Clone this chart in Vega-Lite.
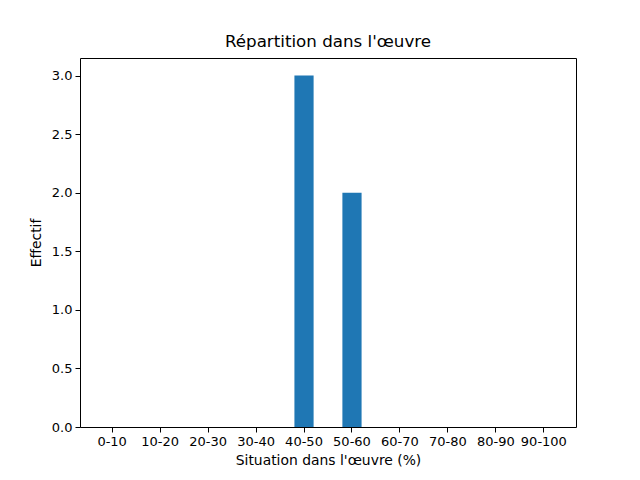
{
  "$schema": "https://vega.github.io/schema/vega-lite/v6.json",
  "width": 496,
  "height": 369,
  "autosize": {"type": "none"},
  "padding": {"left": 80, "top": 58, "right": 64, "bottom": 53},
  "background": "white",
  "title": {"text": "Répartition dans l'œuvre", "font": "DejaVu Sans", "fontSize": 16.7, "fontWeight": "normal", "color": "black", "offset": 7},
  "config": {
    "view": {"stroke": "black", "strokeWidth": 1},
    "axis": {
      "labelFont": "DejaVu Sans", "labelFontSize": 13, "labelColor": "black",
      "titleFont": "DejaVu Sans", "titleFontSize": 13.9, "titleFontWeight": "normal", "titleColor": "black",
      "tickColor": "black", "tickSize": 5, "tickWidth": 1, "domain": false, "grid": false, "labelPadding": 3
    }
  },
  "data": {"values": [
    {"tranche": "0-10", "effectif": 0},
    {"tranche": "10-20", "effectif": 0},
    {"tranche": "20-30", "effectif": 0},
    {"tranche": "30-40", "effectif": 0},
    {"tranche": "40-50", "effectif": 3},
    {"tranche": "50-60", "effectif": 2},
    {"tranche": "60-70", "effectif": 0},
    {"tranche": "70-80", "effectif": 0},
    {"tranche": "80-90", "effectif": 0},
    {"tranche": "90-100", "effectif": 0}
  ]},
  "mark": {"type": "bar", "color": "#1f77b4"},
  "encoding": {
    "x": {"field": "tranche", "type": "nominal", "sort": null,
      "scale": {"paddingInner": 0.6, "paddingOuter": 0.47},
      "axis": {"title": "Situation dans l'œuvre (%)", "labelAngle": 0, "titlePadding": 5}},
    "y": {"field": "effectif", "type": "quantitative",
      "scale": {"domain": [0, 3.15], "nice": false, "zero": true},
      "axis": {"title": "Effectif", "values": [0, 0.5, 1, 1.5, 2, 2.5, 3], "format": ".1f", "titlePadding": 8}}
  }
}
